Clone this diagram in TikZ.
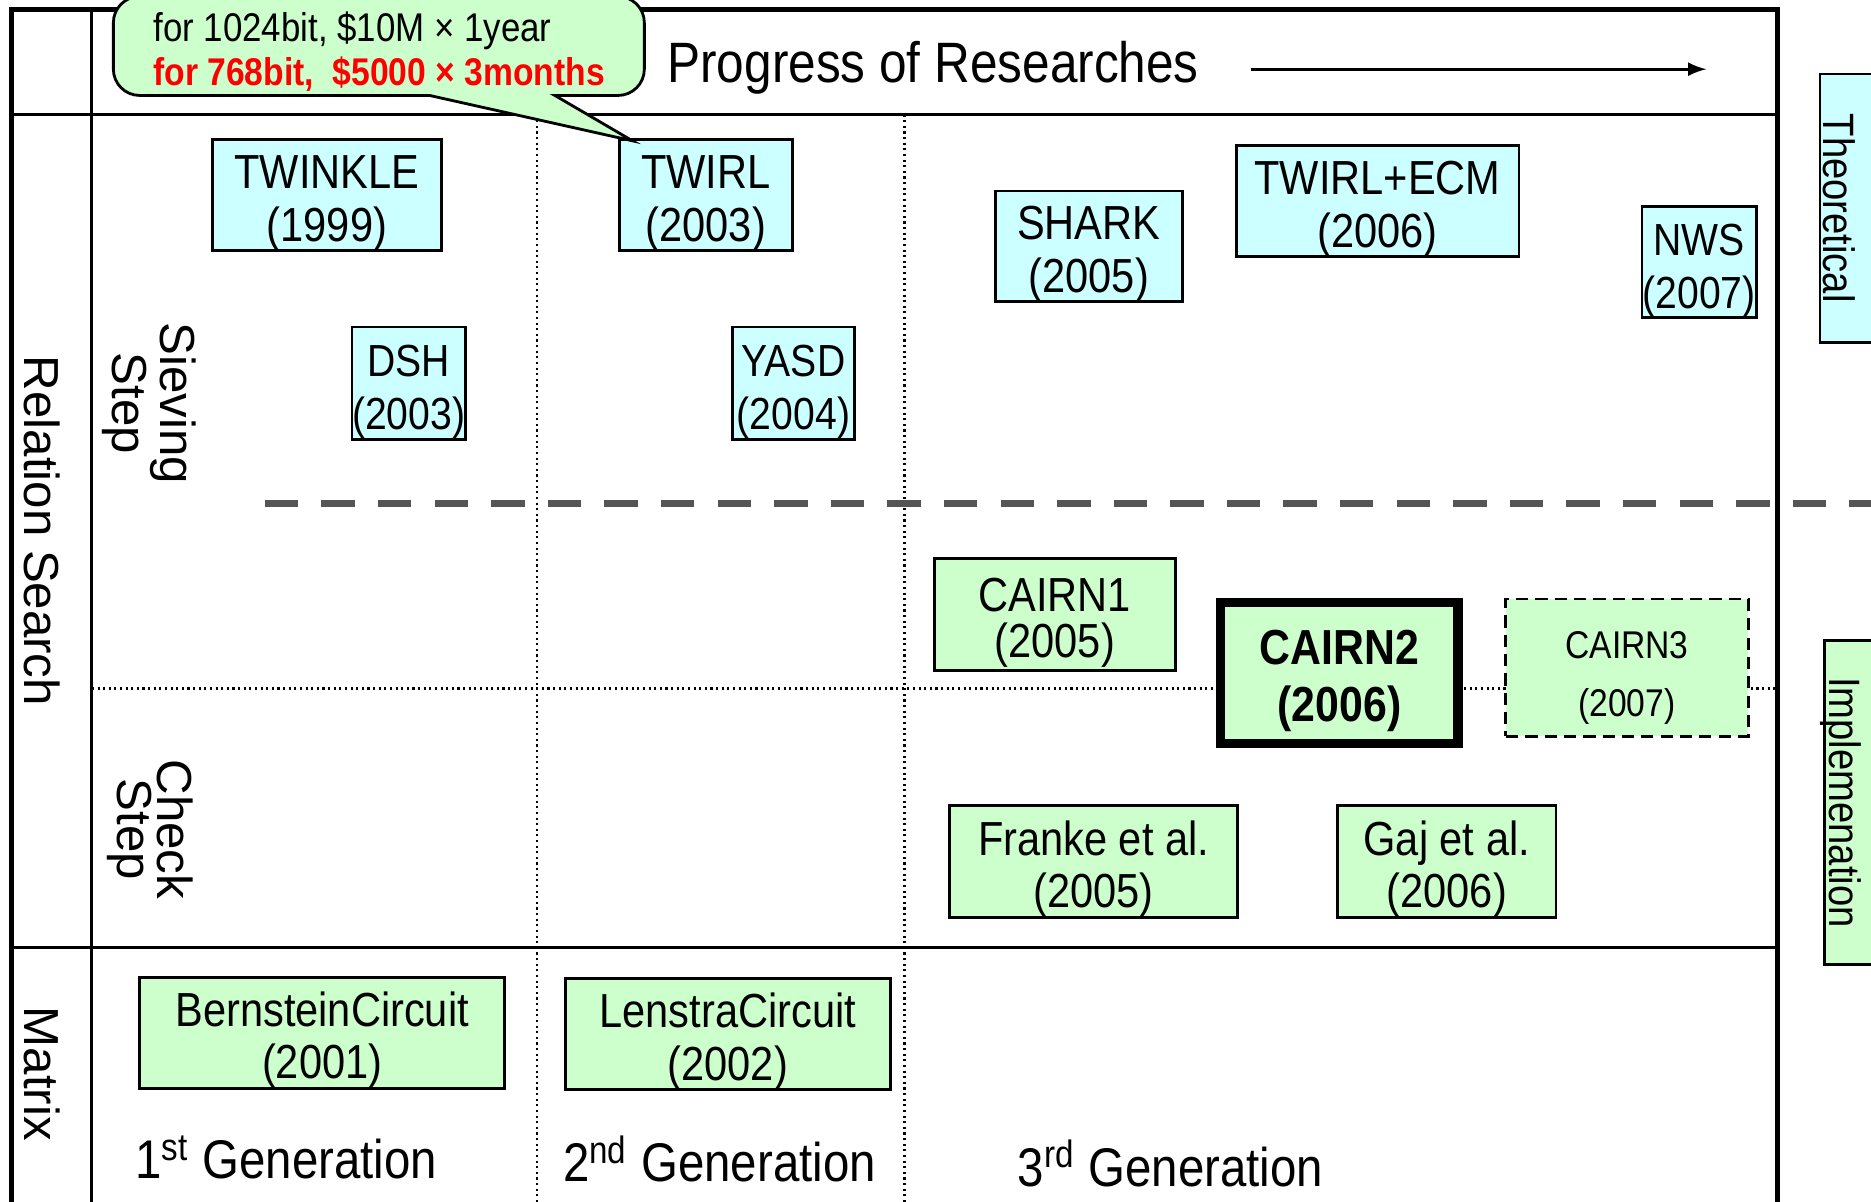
\documentclass[tikz,border=0pt]{standalone}
\usepackage{fontspec}
\setmainfont{Liberation Sans}
\newfontfamily\gothic[FakeStretch=0.87]{Liberation Sans}
\usetikzlibrary{arrows.meta}
\definecolor{skyfill}{HTML}{CCFFFF}
\definecolor{mintfill}{HTML}{CCFFCC}
\definecolor{dashgray}{HTML}{555555}
\newcommand{\px}{0.3395pt}
\newcommand{\entry}[2]{\rule{0pt}{11.3pt}#1\\\smash{(#2)}}

\begin{document}
\begin{tikzpicture}[x=\px,y=-\px,
    theo/.style={draw,fill=skyfill,line width=0.8pt,inner sep=0pt,align=center,font=\gothic\fontsize{13.6}{15}\selectfont},
    impl/.style={theo,fill=mintfill},
    narrow/.style={font=\gothic\fontsize{12.8}{15}\selectfont},
    sz/.style 2 args={minimum width=#1*\px,minimum height=#2*\px},
    side/.style={rotate=-90,align=center,font=\fontsize{14}{11.5}\selectfont},
    gen/.style={font=\gothic\fontsize{15.5}{17}\selectfont}]
    \useasboundingbox (0,0) rectangle (1568,1007);
    \draw[line width=1.4pt](10,1012)--(10,8)--(1490,8)--(1490,1012);
    \draw[line width=0.8pt](10,96)--(1490,96);
    \draw[line width=0.8pt](10,794)--(1490,794);
    \draw[line width=0.8pt](77,8)--(77,1012);
    \draw[densely dotted,line width=0.6pt](450,96)--(450,1012);
    \draw[densely dotted,line width=0.6pt](758,96)--(758,1012);
    \draw[densely dotted,line width=0.6pt](77,577)--(1490,577);
    \draw[dashgray,line width=2pt,dash pattern=on 9.5pt off 6.6pt](222,422)--(1575,422);

    \node[font=\gothic\fontsize{16.2}{17}\selectfont](progress) at (782,57){Progress of Researches};
    \coordinate (arrowtail) at (1048,58);
    \coordinate (arrowtip) at (1430,58);
    \draw[line width=0.8pt,->,>=latex](arrowtail)--(arrowtip);

    \node[side](relsearch) at (35,445){Relation Search};
    \node[side](matrix) at (35,900){Matrix};
    \node[side](sieving) at (125,338){Sieving\\Step};
    \node[side](check) at (126,695){Check\\Step};

    \node[theo,sz={192}{93}](twinkle) at (274,163.5){\entry{TWINKLE}{1999}};
    \node[theo,sz={145}{93}](twirl) at (591.5,163.5){\entry{TWIRL}{2003}};
    \node[theo,narrow,sz={95}{94}](dsh) at (342.5,321){\entry{DSH}{2003}};
    \node[theo,narrow,sz={102}{94}](yasd) at (665,321){\entry{YASD}{2004}};
    \node[theo,sz={157}{93}](shark) at (912.5,206.5){\entry{SHARK}{2005}};
    \node[theo,sz={237}{93}](twirlecm) at (1154.5,168.5){\entry{TWIRL+ECM}{2006}};
    \node[theo,narrow,sz={96}{93}](nws) at (1424,219.5){\entry{NWS}{2007}};

    \node[impl,sz={202}{94},font=\gothic\fontsize{13.6}{13}\selectfont](cairn1) at (884,515){\entry{CAIRN1}{2005}};
    \node[impl,sz={199}{118},line width=2.7pt,font=\gothic\bfseries\fontsize{14}{16.3}\selectfont](cairn2) at (1122.5,564){\entry{CAIRN2}{2006}};
    \node[impl,sz={203}{115},dash pattern=on 3.5pt off 2pt,font=\gothic\fontsize{11}{16.3}\selectfont](cairn3) at (1363.5,559.5){\entry{CAIRN3}{2007}};
    \node[impl,sz={241}{94}](franke) at (916.5,722){\entry{Franke et al.}{2005}};
    \node[impl,sz={183}{94}](gaj) at (1212.5,722){\entry{Gaj et al.}{2006}};
    \node[impl,sz={306}{93}](bernstein) at (270,865.5){\entry{BernsteinCircuit}{2001}};
    \node[impl,sz={272}{93}](lenstra) at (610,866.5){\entry{LenstraCircuit}{2002}};

    \node[theo,sz={60}{225},anchor=west](theobox) at (1524,174.5){};
    \node[rotate=-90,font=\gothic\fontsize{12.5}{14}\selectfont](theotext) at (1541,174.5){Theoretical};
    \node[impl,sz={60}{271},anchor=west](implbox) at (1528,672.5){};
    \node[rotate=-90,font=\gothic\fontsize{12.5}{14}\selectfont](impltext) at (1543,672.5){Implemenation};

    \node[gen](gen1) at (240,970){1\textsuperscript{st} Generation};
    \node[gen](gen2) at (603,971){2\textsuperscript{nd} Generation};
    \node[gen](gen3) at (981,975){3\textsuperscript{rd} Generation};

    \filldraw[fill=mintfill,line width=0.8pt](360,80)[rounded corners=7.5pt]--(95,80)--(95,-3)--(540,-3)--(540,80)[sharp corners]--(465,80)--(530,118)--cycle;
    \node[anchor=west,inner sep=0pt,font=\gothic\fontsize{11.4}{14}\selectfont](cost1024) at (128,26){for 1024bit, \$10M × 1year};
    \node[anchor=west,inner sep=0pt,text=red,font=\gothic\bfseries\fontsize{11}{14}\selectfont](cost768) at (128,62){for 768bit,\ \ \$5000 × 3months};
  \end{tikzpicture}
\end{document}
